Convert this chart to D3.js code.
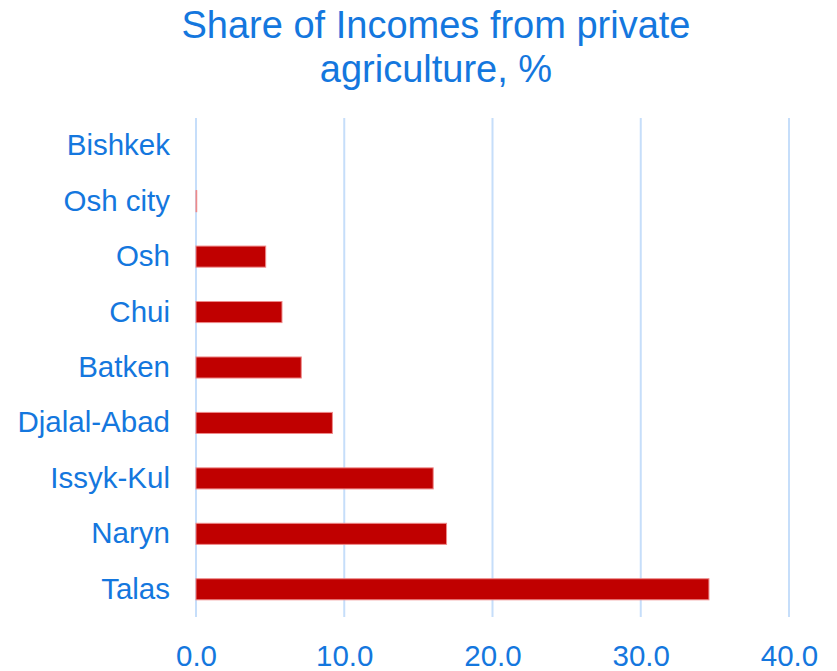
<!DOCTYPE html>
<html>
<head>
<meta charset="utf-8">
<script src="https://cdn.jsdelivr.net/npm/d3@7"></script>
<style>
  html, body { margin: 0; padding: 0; background: #fff; }
  svg { display: block; }
</style>
</head>
<body>
<svg id="chart" width="837" height="671"></svg>
<script>
// Regions, top to bottom, and share of incomes from private agriculture (%)
const regions = ["Bishkek", "Osh city", "Osh", "Chui", "Batken", "Djalal-Abad", "Issyk-Kul", "Naryn", "Talas"];
const shares = [0, 0.05, 4.7, 5.8, 7.1, 9.2, 16.0, 16.9, 34.6];
const tickValues = [0, 10, 20, 30, 40];
const titleLines = ["Share of Incomes from private", "agriculture, %"];

const data = regions.map((r, i) => ({ region: r, value: shares[i] }));

const textColor = "#1477de";
const font = "'Liberation Sans', Arial, sans-serif";

const svg = d3.select("#chart");
const margin = { top: 118, right: 48, bottom: 54, left: 196 };
const width = 837, height = 671;

const x = d3.scaleLinear()
  .domain([0, 40])
  .range([margin.left, width - margin.right]);

const y = d3.scaleBand()
  .domain(regions)
  .range([margin.top, height - margin.bottom])
  .paddingInner(0.62)
  .paddingOuter(0.31);

// Title
svg.append("text")
  .attr("x", 436)
  .attr("y", 38)
  .attr("text-anchor", "middle")
  .attr("font-family", font)
  .attr("font-size", 38)
  .attr("fill", textColor)
  .selectAll("tspan")
  .data(titleLines)
  .join("tspan")
  .attr("x", 436)
  .attr("dy", (d, i) => i === 0 ? 0 : 44)
  .text(d => d);

// Vertical gridlines
svg.append("g")
  .selectAll("line")
  .data(tickValues)
  .join("line")
  .attr("x1", d => x(d))
  .attr("x2", d => x(d))
  .attr("y1", margin.top)
  .attr("y2", height - margin.bottom)
  .attr("stroke", "#c6defa")
  .attr("stroke-width", 2);

// Bars
svg.append("g")
  .selectAll("rect")
  .data(data)
  .join("rect")
  .attr("x", x(0))
  .attr("y", d => y(d.region))
  .attr("width", d => x(d.value) - x(0))
  .attr("height", y.bandwidth())
  .attr("fill", "#c00000")
  .attr("stroke", d => d.value > 0 ? "#ee8a8a" : "none")
  .attr("stroke-width", 1);

// Category axis labels
const yAxis = d3.axisLeft(y).tickSize(0).tickPadding(26);
const gy = svg.append("g")
  .attr("transform", `translate(${x(0)},0)`)
  .call(yAxis);
gy.select(".domain").remove();
gy.selectAll("text")
  .attr("font-family", font)
  .attr("font-size", 29.5)
  .attr("fill", textColor);

// Value axis labels
const xAxis = d3.axisBottom(x)
  .tickValues(tickValues)
  .tickFormat(d3.format(".1f"))
  .tickSize(0)
  .tickPadding(28);
const gx = svg.append("g")
  .attr("transform", `translate(0,${height - margin.bottom})`)
  .call(xAxis);
gx.select(".domain").remove();
gx.selectAll("text")
  .attr("font-family", font)
  .attr("font-size", 29.5)
  .attr("fill", textColor);
</script>
</body>
</html>
